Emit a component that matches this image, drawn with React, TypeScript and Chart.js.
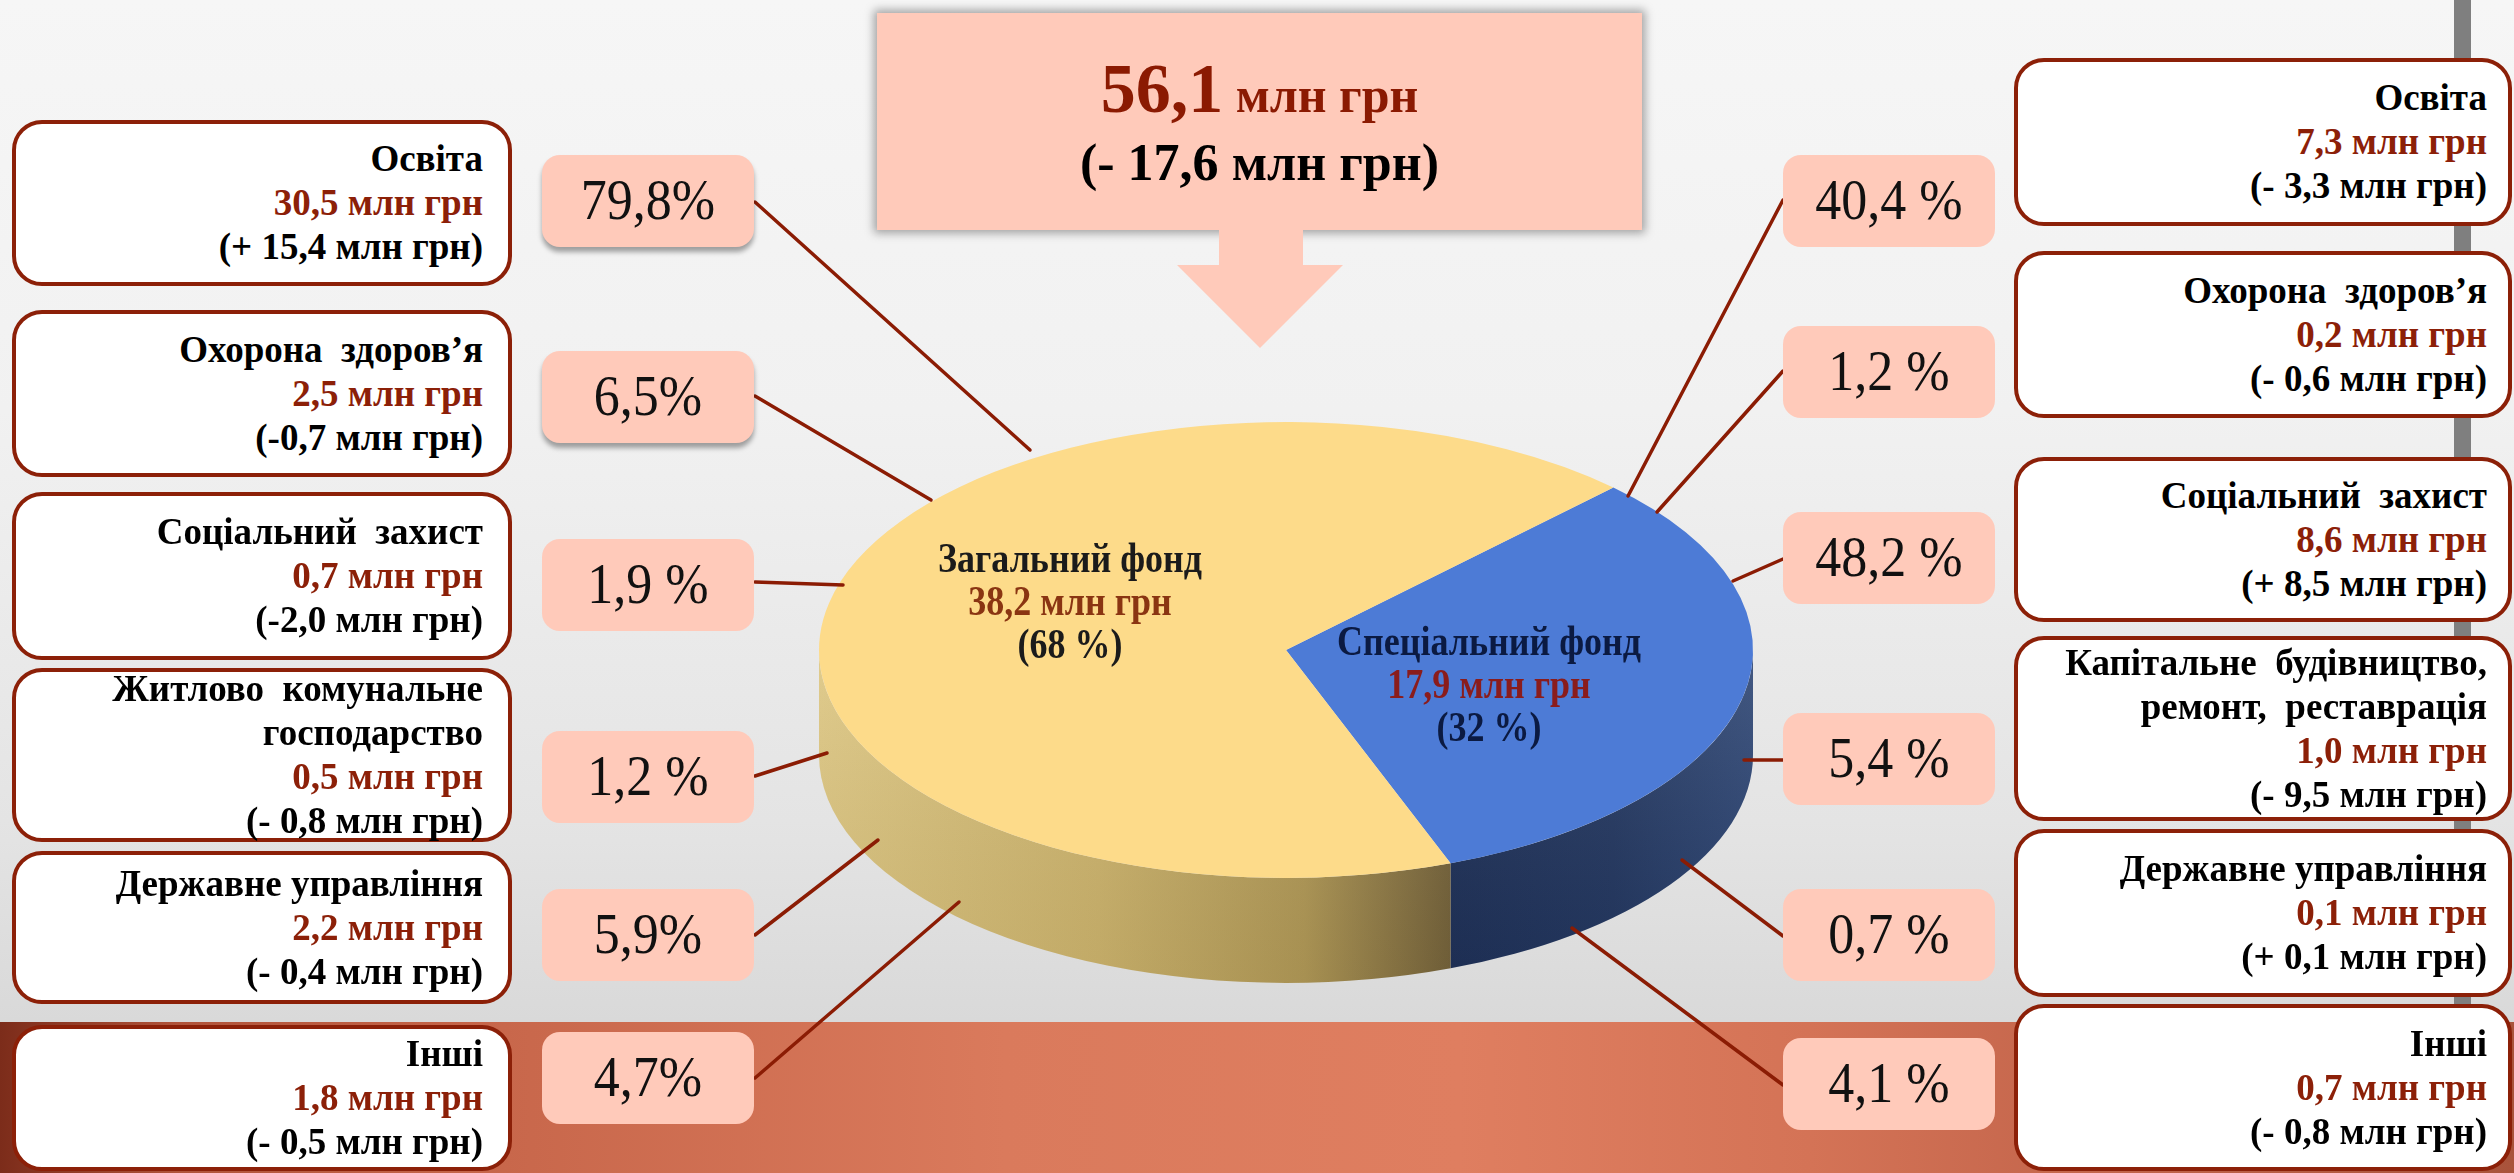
import React, { useEffect, useRef } from 'react';
import { Chart, registerables } from 'chart.js';

Chart.register(...registerables);

// ---------------- DATA ----------------
const fundLabels = ['Спеціальний фонд', 'Загальний фонд'];
const fundValues = [17.9, 38.2];
const fundAmounts = ['17,9', '38,2'];
const fundShares = ['32 %', '68 %'];

const totalAmount = '56,1';
const totalChange = '- 17,6';

const generalCategories = ['Освіта', 'Охорона  здоров’я', 'Соціальний  захист', 'Житлово  комунальне\nгосподарство', 'Державне управління', 'Інші'];
const generalAmounts = ['30,5', '2,5', '0,7', '0,5', '2,2', '1,8'];
const generalChanges = ['+ 15,4', '-0,7', '-2,0', '- 0,8', '- 0,4', '- 0,5'];
const generalShares = ['79,8%', '6,5%', '1,9 %', '1,2 %', '5,9%', '4,7%'];

const specialCategories = ['Освіта', 'Охорона  здоров’я', 'Соціальний  захист', 'Капітальне  будівництво,\nремонт,  реставрація', 'Державне управління', 'Інші'];
const specialAmounts = ['7,3', '0,2', '8,6', '1,0', '0,1', '0,7'];
const specialChanges = ['- 3,3', '- 0,6', '+ 8,5', '- 9,5', '+ 0,1', '- 0,8'];
const specialShares = ['40,4 %', '1,2 %', '48,2 %', '5,4 %', '0,7 %', '4,1 %'];

const UNIT = 'млн грн';

// ---------------- LAYOUT / STYLE ----------------
const W = 2514;
const H = 1173;
const SERIF = "'Liberation Serif', 'Times New Roman', serif";
const DARK_RED = '#8c2008';
const PEACH = '#ffcaba';

const PIE_CX = 1286;
const PIE_CY = 650;
const PIE_R = 467;
const TILT = 0.488;
const DEPTH = 105;
const PIE_ROTATION = 44.5;

const leftBoxes = [[120, 286], [310, 477], [492, 660], [668, 842], [851, 1004], [1025, 1171]];
const rightBoxes = [[58, 226], [251, 418], [457, 622], [636, 821], [829, 997], [1004, 1171]];
const leftTags = [155, 351, 539, 731, 889, 1032];
const rightTags = [155, 326, 512, 713, 889, 1038];
const leftShadowed = [true, true, false, false, false, false];

const leaders = [
  [755, 202, 1030, 450], [755, 396, 931, 500], [755, 582, 843, 585],
  [755, 776, 827, 753], [755, 935, 878, 840], [755, 1078, 959, 902],
  [1783, 200, 1628, 496], [1783, 371, 1657, 512], [1783, 559, 1733, 581],
  [1783, 760, 1744, 760], [1783, 936, 1682, 860], [1783, 1085, 1572, 928],
];

const sideStops: [number, string][][] = [
  [[0.66, '#1e3057'], [0.85, '#233760'], [1, '#2e4674']],
  [[0, '#ddc681'], [0.3, '#ccb36c'], [0.52, '#b09856'], [0.676, '#74623a']],
];
const topColors = ['#4d7bd6', '#fddb8a'];

const pie3d = {
  id: 'pie3d',
  beforeDatasetsDraw(chart: any) {
    const ctx = chart.ctx;
    const arcs = chart.getDatasetMeta(0).data;
    if (!arcs.length) return;
    const { x: cx, y: cy, outerRadius: R } = arcs[0].getProps(['x', 'y', 'outerRadius'], true);
    const ry = R * TILT;
    arcs.forEach((arc: any, i: number) => {
      const { startAngle, endAngle } = arc.getProps(['startAngle', 'endAngle'], true);
      const grad = ctx.createLinearGradient(cx - R, 0, cx + R, 0);
      sideStops[i].forEach(([o, c]) => grad.addColorStop(o, c));
      for (let k = -2; k <= 2; k++) {
        const lo = Math.max(startAngle, 2 * Math.PI * k);
        const hi = Math.min(endAngle, 2 * Math.PI * k + Math.PI);
        if (hi <= lo) continue;
        ctx.beginPath();
        ctx.ellipse(cx, cy, R, ry, 0, lo, hi);
        ctx.ellipse(cx, cy + DEPTH, R, ry, 0, hi, lo, true);
        ctx.closePath();
        ctx.fillStyle = grad;
        ctx.fill();
        const vg = ctx.createLinearGradient(0, cy, 0, cy + ry + DEPTH);
        vg.addColorStop(0, 'rgba(255,255,255,0.10)');
        vg.addColorStop(1, 'rgba(0,0,0,0.05)');
        ctx.fillStyle = vg;
        ctx.fill();
      }
    });
    ctx.save();
    ctx.translate(cx, cy);
    ctx.scale(1, TILT);
    ctx.translate(-cx, -cy);
  },
  afterDatasetsDraw(chart: any) {
    chart.ctx.restore();
  },
  afterDraw(chart: any) {
    const ctx = chart.ctx;
    ctx.save();
    ctx.strokeStyle = '#8b1c04';
    ctx.lineWidth = 3.5;
    ctx.lineCap = 'round';
    leaders.forEach(([x1, y1, x2, y2]) => {
      ctx.beginPath();
      ctx.moveTo(x1, y1);
      ctx.lineTo(x2, y2);
      ctx.stroke();
    });
    ctx.restore();
  },
};

function InfoBox(props: { left: number; top: number; bottom: number; width: number; pad: number; category: string; amount: string; change: string }) {
  const { left, top, bottom, width, pad, category, amount, change } = props;
  return (
    <div
      style={{
        position: 'absolute', left, top, width, height: bottom - top, boxSizing: 'border-box',
        background: '#fff', border: `4px solid ${DARK_RED}`, borderRadius: 30,
        display: 'flex', flexDirection: 'column', justifyContent: 'center', alignItems: 'flex-end',
        paddingRight: pad, fontFamily: SERIF, fontWeight: 'bold', fontSize: 37, lineHeight: '44px',
        textAlign: 'right', color: '#000', whiteSpace: 'pre', overflow: 'visible',
      }}
    >
      <div>{category}</div>
      <div style={{ color: DARK_RED }}>{amount} {UNIT}</div>
      <div>({change} {UNIT})</div>
    </div>
  );
}

function Tag(props: { left: number; top: number; text: string; shadow?: boolean }) {
  return (
    <div
      style={{
        position: 'absolute', left: props.left, top: props.top, width: 212, height: 92,
        background: PEACH, borderRadius: 18, fontFamily: SERIF, fontSize: 52, lineHeight: '92px',
        textAlign: 'center', color: '#111', whiteSpace: 'pre',
        boxShadow: props.shadow ? '0 5px 5px rgba(0,0,0,0.35)' : 'none',
      }}
    >
      <span style={{ display: 'inline-block', transform: 'scaleY(1.08)' }}>{props.text}</span>
    </div>
  );
}

function PieLabel(props: { cx: number; top: number; title: string; amount: string; share: string; color: string; amountColor: string }) {
  return (
    <div
      style={{
        position: 'absolute', left: props.cx, top: props.top, transform: 'translateX(-50%) scaleY(1.2)',
        transformOrigin: 'top center', textAlign: 'center', fontFamily: SERIF, fontWeight: 'bold',
        fontSize: 36, lineHeight: '36px', whiteSpace: 'pre', color: props.color,
      }}
    >
      <div>{props.title}</div>
      <div style={{ color: props.amountColor }}>{props.amount} {UNIT}</div>
      <div>({props.share})</div>
    </div>
  );
}

export default function App() {
  const canvasRef = useRef<HTMLCanvasElement | null>(null);

  useEffect(() => {
    const canvas = canvasRef.current;
    if (!canvas) return;
    const chart = new Chart(canvas, {
      type: 'pie',
      data: {
        labels: fundLabels,
        datasets: [{ data: fundValues, backgroundColor: topColors, borderWidth: 0, hoverOffset: 0 }],
      },
      options: {
        responsive: false,
        animation: false,
        events: [],
        rotation: PIE_ROTATION,
        layout: {
          padding: {
            left: PIE_CX - PIE_R,
            right: W - PIE_CX - PIE_R,
            top: PIE_CY - PIE_R,
            bottom: H - PIE_CY - PIE_R,
          },
        },
        plugins: { legend: { display: false }, tooltip: { enabled: false } },
      },
      plugins: [pie3d],
    });
    return () => chart.destroy();
  }, []);

  return (
    <div
      style={{
        position: 'fixed', left: 0, top: 0, width: W, height: H, overflow: 'hidden',
        background: 'linear-gradient(to bottom, #f6f6f6 0%, #f1f1f1 35%, #e4e4e4 70%, #d9d9d9 87%)',
        fontFamily: SERIF,
      }}
    >
      <div
        style={{
          position: 'absolute', left: 0, top: 1022, width: W, height: H - 1022,
          background: 'linear-gradient(to right, #7c2c1a 0%, #b0533a 7%, #c8674b 20%, #da7a5c 40%, #df7e60 58%, #d47356 72%, #c1634a 85%, #a9533b 100%)',
        }}
      />
      <div style={{ position: 'absolute', left: 2454, top: 0, width: 17, height: 1022, background: '#7f7f7f' }} />

      <canvas ref={canvasRef} width={W} height={H} style={{ position: 'absolute', left: 0, top: 0, width: W, height: H }} />

      <div
        style={{
          position: 'absolute', left: 877, top: 13, width: 765, height: 217, background: PEACH,
          boxShadow: '0 0 9px 3px rgba(0,0,0,0.35)', fontFamily: SERIF,
        }}
      >
        <div style={{ position: 'absolute', left: 0, right: 0, top: 41, textAlign: 'center', lineHeight: '70px', color: '#8b1a02', fontWeight: 'bold', whiteSpace: 'pre' }}>
          <span style={{ fontSize: 70 }}>{totalAmount}</span>
          <span style={{ fontSize: 50 }}> {UNIT}</span>
        </div>
        <div style={{ position: 'absolute', left: 0, right: 0, top: 124, textAlign: 'center', lineHeight: '52px', fontSize: 52, color: '#000', fontWeight: 'bold', whiteSpace: 'pre' }}>
          ({totalChange} {UNIT})
        </div>
      </div>
      <div
        style={{
          position: 'absolute', left: 1177, top: 228, width: 166, height: 120, background: PEACH,
          clipPath: 'polygon(42px 0, 126px 0, 126px 37px, 166px 37px, 83px 120px, 0 37px, 42px 37px)',
        }}
      />

      <PieLabel cx={1070} top={536} title={fundLabels[1]} amount={fundAmounts[1]} share={fundShares[1]} color="#1b1b1b" amountColor="#8a3512" />
      <PieLabel cx={1489} top={619} title={fundLabels[0]} amount={fundAmounts[0]} share={fundShares[0]} color="#0b1a42" amountColor="#8a1c1c" />

      {generalCategories.map((c, i) => (
        <InfoBox key={'l' + i} left={12} top={leftBoxes[i][0]} bottom={leftBoxes[i][1]} width={500} pad={25}
          category={c} amount={generalAmounts[i]} change={generalChanges[i]} />
      ))}
      {generalShares.map((s, i) => (
        <Tag key={'lt' + i} left={542} top={leftTags[i]} text={s} shadow={leftShadowed[i]} />
      ))}

      {specialCategories.map((c, i) => (
        <InfoBox key={'r' + i} left={2014} top={rightBoxes[i][0]} bottom={rightBoxes[i][1]} width={498} pad={21}
          category={c} amount={specialAmounts[i]} change={specialChanges[i]} />
      ))}
      {specialShares.map((s, i) => (
        <Tag key={'rt' + i} left={1783} top={rightTags[i]} text={s} />
      ))}
    </div>
  );
}
